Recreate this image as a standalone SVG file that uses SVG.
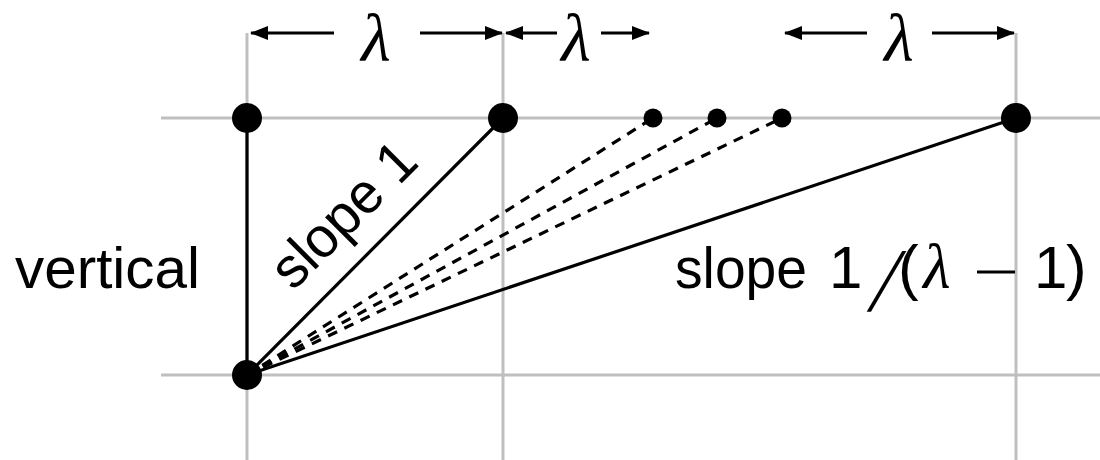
<svg xmlns="http://www.w3.org/2000/svg" width="1100" height="460" viewBox="0 0 1100 460">
  <style>
    .grid { stroke: #bfbfbf; stroke-width: 3; fill: none; }
    .edge { stroke: #000; stroke-width: 3.2; fill: none; }
    .dash { stroke: #000; stroke-width: 3.2; fill: none; stroke-dasharray: 10 8; }
    .dim { stroke: #000; stroke-width: 3; fill: none; marker-end: url(#arr); }
    .sans { font-family: "Liberation Sans", "DejaVu Sans", sans-serif; fill: #000; }
    .lam { font-family: "Liberation Serif", "DejaVu Serif", serif; font-style: italic; fill: #000; }
  </style>
  <defs>
    <marker id="arr" viewBox="0 0 18 14" refX="17" refY="7" markerWidth="18" markerHeight="14" markerUnits="userSpaceOnUse" orient="auto">
      <path d="M0,0 L18,7 L0,14 Z" fill="#000"/>
    </marker>
  </defs>

  <g id="grid">
    <line class="grid" x1="247" y1="33" x2="247" y2="460"/>
    <line class="grid" x1="503" y1="33" x2="503" y2="460"/>
    <line class="grid" x1="1016" y1="33" x2="1016" y2="460"/>
    <line class="grid" x1="161" y1="118" x2="1100" y2="118"/>
    <line class="grid" x1="161" y1="375" x2="1100" y2="375"/>
  </g>

  <g id="connectors">
    <line class="edge" x1="247" y1="375" x2="247" y2="118"/>
    <line class="edge" x1="247" y1="375" x2="503" y2="118"/>
    <line class="edge" x1="247" y1="375" x2="1016" y2="118"/>
    <line class="dash" x1="247" y1="375" x2="653" y2="118"/>
    <line class="dash" x1="247" y1="375" x2="717" y2="118"/>
    <line class="dash" x1="247" y1="375" x2="782" y2="118"/>
  </g>

  <g id="dimensions">
    <line class="dim" x1="334" y1="33" x2="251" y2="33"/>
    <line class="dim" x1="420" y1="33" x2="502" y2="33"/>
    <text class="lam" x="376" y="61" font-size="68" text-anchor="middle">λ</text>
    <line class="dim" x1="557" y1="33" x2="506" y2="33"/>
    <line class="dim" x1="601" y1="33" x2="649" y2="33"/>
    <text class="lam" x="576" y="61" font-size="68" text-anchor="middle">λ</text>
    <line class="dim" x1="867" y1="33" x2="785" y2="33"/>
    <line class="dim" x1="932" y1="33" x2="1014" y2="33"/>
    <text class="lam" x="899" y="61" font-size="68" text-anchor="middle">λ</text>
  </g>

  <g id="node-a"><circle cx="247" cy="118" r="15" fill="#000"/></g>
  <g id="node-b"><circle cx="503" cy="118" r="15" fill="#000"/></g>
  <g id="node-c"><circle cx="653" cy="118" r="9.5" fill="#000"/></g>
  <g id="node-d"><circle cx="717" cy="118" r="9.5" fill="#000"/></g>
  <g id="node-e"><circle cx="782" cy="118" r="9.5" fill="#000"/></g>
  <g id="node-f"><circle cx="1016" cy="118" r="15" fill="#000"/></g>
  <g id="node-o"><circle cx="247" cy="375" r="15" fill="#000"/></g>

  <g id="labels">
    <text class="sans" x="15" y="288" font-size="57" textLength="185" lengthAdjust="spacingAndGlyphs">vertical</text>
    <text class="sans" font-size="57" text-anchor="middle" textLength="180" lengthAdjust="spacingAndGlyphs" transform="translate(357,228) rotate(-45)">slope 1</text>
    <text class="sans" x="675" y="288" font-size="57" textLength="132" lengthAdjust="spacingAndGlyphs">slope</text>
    <text class="sans" x="829" y="288" font-size="60">1</text>
    <text class="sans" font-size="68" transform="translate(867,311) skewX(-22) scale(0.8,1.22)">/</text>
    <text class="sans" x="898" y="288" font-size="62">(</text>
    <text class="lam" x="937" y="288" font-size="63" text-anchor="middle">λ</text>
    <line x1="977" y1="272" x2="1015" y2="272" stroke="#000" stroke-width="3.2"/>
    <text class="sans" x="1034" y="288" font-size="60">1</text>
    <text class="sans" x="1066" y="288" font-size="62">)</text>
  </g>
</svg>
